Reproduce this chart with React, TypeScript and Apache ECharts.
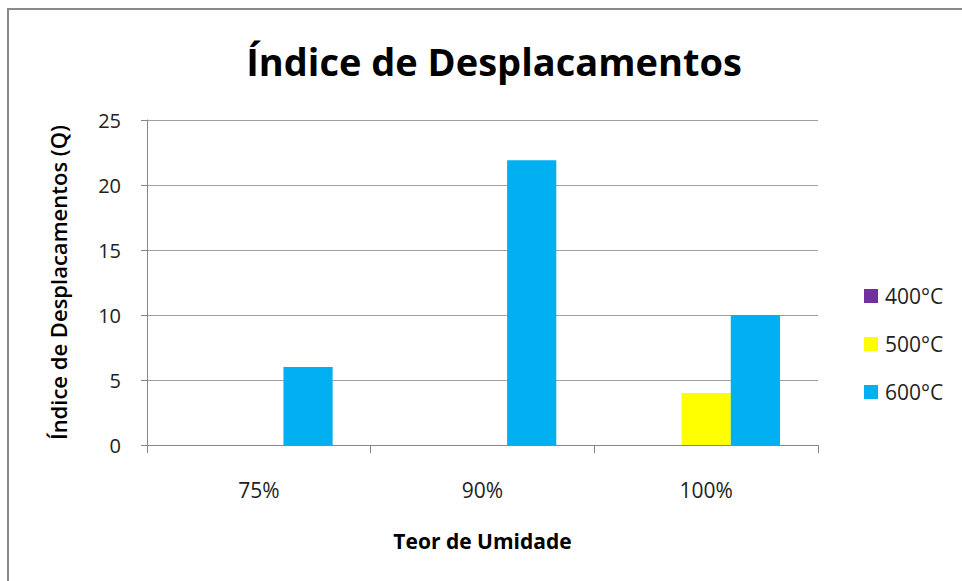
import React, { useEffect, useRef } from "react";
import * as echarts from "echarts";

const categories = ["75%", "90%", "100%"];
const seriesNames = ["400°C", "500°C", "600°C"];
const values400 = [0, 0, 0];
const values500 = [0, 0, 4];
const values600 = [6, 21.9, 10];
const colors = ["#7030A0", "#FFFF00", "#00B0F0"];

export default function App() {
  const ref = useRef<HTMLDivElement>(null);
  useEffect(() => {
    if (!ref.current) return;
    const chart = echarts.init(ref.current, null, { renderer: "svg" });
    const font = "'Open Sans', 'Noto Sans', sans-serif";
    const data = [values400, values500, values600];
    chart.setOption({
      animation: false,
      backgroundColor: "#ffffff",
      textStyle: { fontFamily: font },
      title: {
        text: "Índice de Desplacamentos",
        left: 489,
        textAlign: "center",
        top: 37,
        textStyle: { fontFamily: font, fontSize: 38, fontWeight: "bold", color: "#000" },
      },
      graphic: [
        {
          type: "rect",
          shape: { x: 8, y: 9, width: 1000, height: 700 },
          style: { fill: "none", stroke: "#8a8a8a", lineWidth: 2 },
          silent: true,
          z: -1,
        },
      ],
      legend: {
        orient: "vertical",
        left: 859,
        top: 280,
        itemWidth: 14,
        itemHeight: 14,
        itemGap: 26,
        icon: "rect",
        textStyle: { fontFamily: font, fontSize: 21, lineHeight: 22, color: "#222", padding: [0, 0, 0, 2] },
        data: seriesNames,
      },
      grid: { left: 147, right: 144, top: 120, bottom: 136, containLabel: false },
      xAxis: {
        type: "category",
        data: categories,
        name: "Teor de Umidade",
        nameLocation: "middle",
        nameGap: 85,
        nameTextStyle: { fontFamily: font, fontSize: 21, fontWeight: "bold", color: "#000" },
        axisLine: { lineStyle: { color: "#868686", width: 1 } },
        axisTick: { show: true, length: 8, alignWithLabel: false, lineStyle: { color: "#868686" } },
        axisLabel: { fontFamily: font, fontSize: 21, color: "#222", margin: 34 },
      },
      yAxis: {
        type: "value",
        min: 0,
        max: 25,
        interval: 5,
        name: "Índice de Desplacamentos (Q)",
        nameLocation: "middle",
        nameGap: 78,
        nameTextStyle: { fontFamily: font, fontSize: 22, fontWeight: 600, color: "#000" },
        axisLine: { show: true, lineStyle: { color: "#868686" } },
        axisTick: { show: true, length: 6, lineStyle: { color: "#868686" } },
        axisLabel: { fontFamily: font, fontSize: 20, color: "#222", margin: 26 },
        splitLine: { lineStyle: { color: "#a0a0a0", width: 1 } },
      },
      series: seriesNames.map((name, i) => ({
        name,
        type: "bar",
        data: data[i],
        barGap: "0%",
        barCategoryGap: "34%",
        itemStyle: { color: colors[i] },
      })),
    });
    return () => chart.dispose();
  }, []);
  return <div ref={ref} style={{ position: "fixed", left: 0, top: 0, width: 962, height: 581 }} />;
}
